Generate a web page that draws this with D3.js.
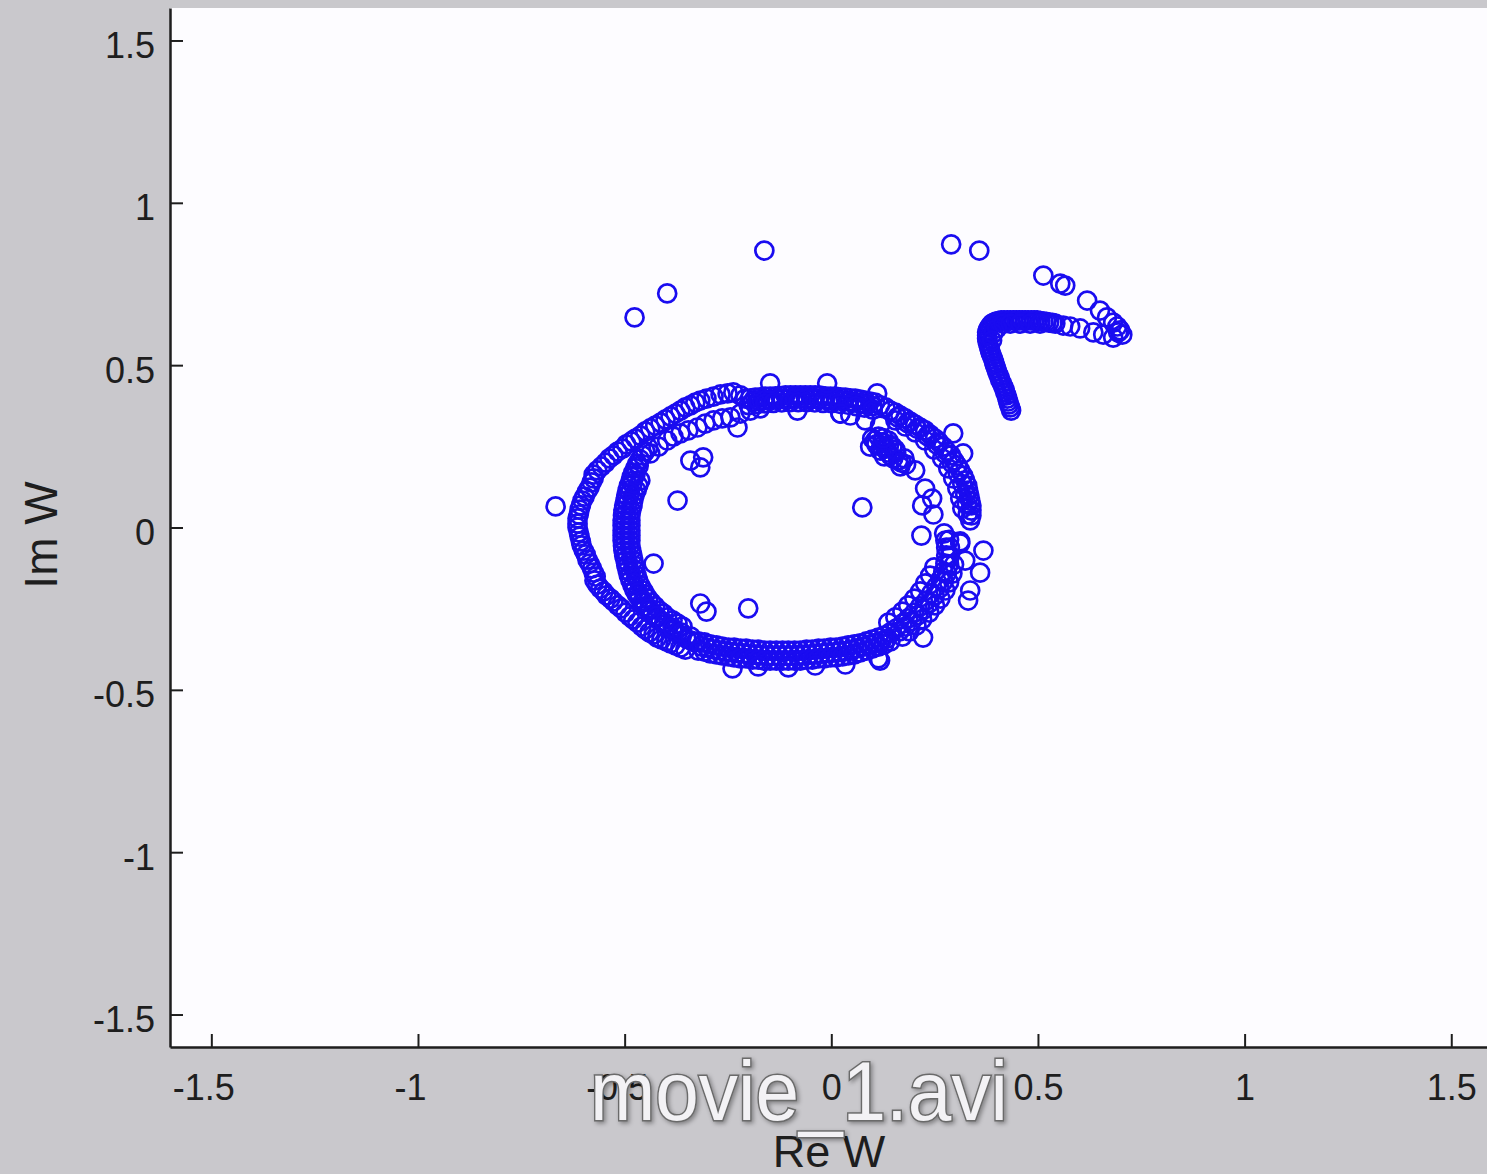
<!DOCTYPE html>
<html>
<head>
<meta charset="utf-8">
<script src="https://cdn.jsdelivr.net/npm/d3@7"></script>
<style>
    body { margin: 0; background: #c9c8cc; overflow: hidden; }
    svg { display: block; }
</style>
</head>
<body>
<svg></svg>
<script>
// tick values and labels
const X_TICKS = [-1.5, -1, -0.5, 0, 0.5, 1, 1.5];
const X_TICK_LABELS = ['-1.5', '-1', '-0.5', '0', '0.5', '1', '1.5'];
const Y_TICKS = [-1.5, -1, -0.5, 0, 0.5, 1, 1.5];
const Y_TICK_LABELS = ['-1.5', '-1', '-0.5', '0', '0.5', '1', '1.5'];

// W samples as [Re W, Im W], grouped by the parts of the picture
const outerArc = [
    [-0.220,0.407],[-0.251,0.413],[-0.285,0.403],[-0.317,0.391],[-0.341,0.376],[-0.365,0.360],[-0.389,0.342],[-0.413,0.323],
    [-0.438,0.305],[-0.462,0.283],[-0.484,0.265],[-0.505,0.243],[-0.527,0.222],[-0.546,0.200],[-0.566,0.176],[-0.575,0.151],
    [-0.585,0.123],[-0.597,0.095],[-0.606,0.068],[-0.611,0.040],[-0.614,0.012],[-0.611,-0.015],[-0.606,-0.043],[-0.599,-0.071],
    [-0.590,-0.099],[-0.579,-0.126],[-0.570,-0.151],[-0.566,-0.176],[-0.551,-0.197],[-0.534,-0.219],[-0.517,-0.240],[-0.498,-0.262],
    [-0.479,-0.283],[-0.459,-0.305],[-0.440,-0.323],[-0.421,-0.339],[-0.399,-0.351],[-0.377,-0.363],[-0.353,-0.376],
    [-0.237,0.416],[-0.268,0.410],[-0.302,0.397],[-0.329,0.385],[-0.353,0.370],[-0.377,0.351],[-0.401,0.333],[-0.426,0.314],
    [-0.450,0.296],[-0.474,0.274],[-0.496,0.256],[-0.517,0.234],[-0.537,0.213],[-0.556,0.188],[-0.575,0.163],[-0.580,0.139],
    [-0.591,0.111],[-0.602,0.083],[-0.609,0.055],[-0.614,0.028],[-0.614,0.000],[-0.609,-0.028],[-0.604,-0.055],[-0.594,-0.083],
    [-0.585,-0.111],[-0.575,-0.139],[-0.573,-0.163],[-0.559,-0.188],[-0.544,-0.209],[-0.527,-0.228],[-0.508,-0.249],[-0.488,-0.274],
    [-0.469,-0.293],[-0.450,-0.314],[-0.430,-0.330],[-0.411,-0.345],[-0.389,-0.357],[-0.365,-0.370]
];

const innerArc = [
    [-0.438,0.228],[-0.418,0.249],[-0.397,0.268],[-0.382,0.280],[-0.365,0.290],[-0.346,0.299],[-0.324,0.308],[-0.305,0.320],
    [-0.285,0.330],[-0.264,0.336],[-0.244,0.339],[-0.227,0.308],[-0.220,0.351],[-0.196,0.360],[-0.172,0.367],[-0.341,0.206],
    [-0.310,0.216],[-0.317,0.185]
];

const innerBand = [
    [-0.443,0.246],[-0.450,0.234],[-0.457,0.222],[-0.463,0.210],[-0.469,0.197],[-0.474,0.183],[-0.479,0.169],[-0.483,0.156],
    [-0.486,0.142],[-0.490,0.128],[-0.493,0.114],[-0.496,0.099],[-0.498,0.083],[-0.501,0.068],[-0.503,0.052],[-0.504,0.037],
    [-0.505,0.022],[-0.505,0.006],[-0.505,-0.009],[-0.505,-0.025],[-0.505,-0.040],[-0.504,-0.056],[-0.503,-0.071],[-0.501,-0.087],
    [-0.498,-0.102],[-0.496,-0.117],[-0.493,-0.132],[-0.490,-0.148],[-0.486,-0.163],[-0.481,-0.179],[-0.476,-0.194],[-0.470,-0.207],
    [-0.464,-0.219],[-0.457,-0.231],[-0.450,-0.243],[-0.442,-0.256],[-0.433,-0.268],[-0.423,-0.279],[-0.413,-0.290],[-0.404,-0.299],
    [-0.394,-0.308],[-0.383,-0.317],[-0.372,-0.326],[-0.362,-0.334],[-0.351,-0.342],[-0.340,-0.348],[-0.329,-0.354],
    [-0.462,0.145],[-0.471,0.114],[-0.479,0.083],[-0.484,0.052],[-0.486,0.022],[-0.486,-0.009],[-0.486,-0.040],[-0.484,-0.071],
    [-0.479,-0.102],[-0.474,-0.132],[-0.467,-0.163],[-0.455,-0.194],[-0.443,-0.219],[-0.426,-0.243],[-0.406,-0.265],[-0.384,-0.286],
    [-0.360,-0.305],[-0.467,0.129],[-0.476,0.099],[-0.481,0.068],[-0.486,0.037],[-0.486,0.006],[-0.486,-0.025],[-0.486,-0.055],
    [-0.481,-0.086],[-0.476,-0.117],[-0.471,-0.148],[-0.462,-0.179],[-0.450,-0.206],[-0.435,-0.231],[-0.416,-0.256],[-0.397,-0.277],
    [-0.372,-0.296],
    [-0.466,0.190],[-0.474,0.162],[-0.481,0.135],[-0.487,0.106],[-0.492,0.076],[-0.495,0.045],[-0.497,0.014],[-0.497,-0.017],
    [-0.497,-0.048],[-0.495,-0.079],[-0.491,-0.110],[-0.485,-0.140],[-0.478,-0.171],[-0.467,-0.200],[-0.455,-0.225],[-0.440,-0.249],
    [-0.423,-0.272],[-0.404,-0.291],[-0.384,-0.309],[-0.362,-0.324],[-0.340,-0.336]
];

const bottomBand = [
    [-0.322,-0.351],[-0.307,-0.354],[-0.293,-0.360],[-0.278,-0.363],[-0.264,-0.367],[-0.249,-0.370],[-0.235,-0.370],[-0.220,-0.373],
    [-0.206,-0.373],[-0.191,-0.376],[-0.177,-0.376],[-0.162,-0.379],[-0.148,-0.379],[-0.133,-0.379],[-0.118,-0.379],[-0.104,-0.379],
    [-0.089,-0.379],[-0.075,-0.379],[-0.060,-0.376],[-0.046,-0.376],[-0.031,-0.373],[-0.017,-0.373],[-0.002,-0.370],[0.012,-0.370],
    [0.027,-0.367],[0.041,-0.363],[0.056,-0.360],[0.070,-0.357],[0.085,-0.351],[0.099,-0.345],[0.114,-0.339],[0.128,-0.333],
    [0.143,-0.323],
    [-0.315,-0.366],[-0.300,-0.370],[-0.286,-0.375],[-0.271,-0.378],[-0.257,-0.382],[-0.242,-0.384],[-0.228,-0.386],[-0.213,-0.388],
    [-0.199,-0.390],[-0.184,-0.392],[-0.170,-0.393],[-0.155,-0.395],[-0.141,-0.395],[-0.126,-0.395],[-0.111,-0.395],[-0.097,-0.395],
    [-0.082,-0.395],[-0.068,-0.393],[-0.053,-0.392],[-0.039,-0.390],[-0.024,-0.388],[-0.010,-0.386],[0.005,-0.385],[0.019,-0.383],
    [0.034,-0.381],[0.048,-0.377],[0.063,-0.372],[0.077,-0.367],[0.092,-0.361],[0.106,-0.356],[0.121,-0.350],[0.135,-0.342],
    [-0.322,-0.379],[-0.307,-0.382],[-0.293,-0.388],[-0.278,-0.391],[-0.264,-0.394],[-0.249,-0.397],[-0.235,-0.400],[-0.220,-0.403],
    [-0.206,-0.403],[-0.191,-0.407],[-0.177,-0.407],[-0.162,-0.410],[-0.148,-0.410],[-0.133,-0.410],[-0.118,-0.410],[-0.104,-0.410],
    [-0.089,-0.410],[-0.075,-0.410],[-0.060,-0.407],[-0.046,-0.407],[-0.031,-0.403],[-0.017,-0.403],[-0.002,-0.400],[0.012,-0.400],
    [0.027,-0.397],[0.041,-0.394],[0.056,-0.391],[0.070,-0.385],[0.085,-0.379],[0.099,-0.373],[0.114,-0.367],[0.128,-0.360],
    [0.143,-0.351],
    [-0.239,-0.434],[-0.177,-0.428],[-0.104,-0.431],[-0.039,-0.425],[0.034,-0.422],[0.114,-0.403],[-0.317,-0.234],[-0.302,-0.259]
];

const lowerRight = [
    [0.157,-0.311],[0.172,-0.296],[0.186,-0.280],[0.201,-0.262],[0.215,-0.243],[0.230,-0.225],[0.242,-0.203],[0.254,-0.182],
    [0.264,-0.160],[0.271,-0.136],[0.276,-0.111],[0.278,-0.086],[0.278,-0.062],[0.276,-0.040],[0.273,-0.018],
    [0.165,-0.320],[0.180,-0.305],[0.195,-0.288],[0.210,-0.270],[0.224,-0.252],[0.238,-0.232],[0.250,-0.210],[0.262,-0.188],
    [0.272,-0.165],[0.280,-0.140],[0.285,-0.114],[0.287,-0.088],[0.287,-0.062],[0.285,-0.038],
    [0.172,-0.336],[0.189,-0.320],[0.206,-0.302],[0.220,-0.283],[0.237,-0.262],[0.251,-0.240],[0.264,-0.219],[0.276,-0.194],
    [0.285,-0.169],[0.293,-0.142],[0.297,-0.114],
    [0.138,-0.293],[0.155,-0.277],[0.172,-0.259],[0.186,-0.240],[0.201,-0.219],[0.215,-0.197],[0.227,-0.172],[0.239,-0.148],
    [0.249,-0.123],
    [0.368,-0.071],[0.360,-0.139],[0.336,-0.194],[0.331,-0.225],[0.312,-0.043],[0.324,-0.102],[0.222,-0.339],[0.118,-0.410]
];

const rightBand = [
    [0.118,0.376],[0.143,0.360],[0.167,0.345],[0.191,0.326],[0.215,0.308],[0.239,0.286],[0.261,0.262],[0.280,0.234],
    [0.297,0.206],[0.312,0.176],[0.324,0.145],[0.331,0.114],[0.336,0.083],[0.339,0.052],[0.336,0.022],
    [0.131,0.370],[0.155,0.354],[0.179,0.336],[0.203,0.317],[0.227,0.299],[0.251,0.274],[0.271,0.249],[0.290,0.222],
    [0.305,0.191],[0.319,0.160],[0.329,0.129],[0.334,0.099],[0.339,0.068],[0.339,0.037],
    [0.160,0.340],[0.184,0.322],[0.208,0.304],[0.232,0.282],[0.255,0.256],[0.275,0.228],[0.292,0.198],[0.306,0.166],
    [0.317,0.134],[0.324,0.102],[0.328,0.070],[0.330,0.040],
    [0.155,0.330],[0.179,0.311],[0.203,0.293],[0.227,0.268],[0.249,0.240],[0.268,0.213],[0.283,0.182],[0.295,0.151],
    [0.305,0.120],[0.312,0.089],[0.317,0.059]
];

const rightBlob = [
    [0.099,0.274],[0.114,0.280],[0.109,0.256],[0.123,0.262],[0.138,0.268],[0.118,0.237],[0.133,0.243],[0.148,0.249],
    [0.143,0.222],[0.157,0.231],[0.162,0.206],[0.177,0.213],[0.128,0.219],[0.167,0.188],[0.181,0.194],[0.094,0.249],
    [0.106,0.268],[0.121,0.250],[0.136,0.231],[0.150,0.213],[0.155,0.240],[0.140,0.255],[0.170,0.200],[0.126,0.275]
];

const rightInner = [
    [0.203,0.176],[0.227,0.120],[0.244,0.089],[0.220,0.068],[0.247,0.040],[0.218,-0.025],[0.295,0.290],[0.319,0.228],
    [0.312,-0.049],[0.046,0.345],[0.082,0.330],[0.022,0.351],[0.118,0.314]
];

const topBand = [
    [-0.208,0.397],[-0.196,0.398],[-0.184,0.400],[-0.172,0.401],[-0.160,0.403],[-0.148,0.403],[-0.135,0.404],[-0.123,0.405],
    [-0.111,0.407],[-0.099,0.407],[-0.087,0.407],[-0.075,0.407],[-0.063,0.407],[-0.051,0.407],[-0.039,0.407],[-0.027,0.406],
    [-0.015,0.404],[-0.002,0.403],[0.010,0.403],[0.022,0.401],[0.034,0.400],[0.046,0.398],[0.058,0.397],[0.070,0.394],
    [0.082,0.391],[0.094,0.388],[0.106,0.385],
    [-0.190,0.388],[-0.176,0.390],[-0.161,0.392],[-0.147,0.393],[-0.132,0.395],[-0.118,0.396],[-0.103,0.396],[-0.089,0.397],
    [-0.074,0.397],[-0.060,0.397],[-0.045,0.396],[-0.031,0.395],[-0.016,0.394],[-0.002,0.393],[0.013,0.392],[0.027,0.390],
    [0.042,0.388],[0.056,0.385],[0.071,0.382],[0.085,0.378],[0.100,0.374],
    [-0.200,0.377],[-0.180,0.380],[-0.160,0.382],[-0.140,0.384],[-0.120,0.385],[-0.100,0.386],[-0.080,0.386],[-0.060,0.386],
    [-0.040,0.385],[-0.020,0.384],[0.000,0.383],[0.020,0.381],[0.040,0.378],[0.060,0.374],[0.080,0.369],[0.100,0.363],
    [-0.148,0.444],[-0.010,0.444],[0.111,0.413],[-0.082,0.360],[0.022,0.351]
];

const hook = [
    [0.435,0.360],[0.430,0.379],[0.426,0.397],[0.421,0.416],[0.416,0.434],[0.409,0.453],[0.404,0.471],[0.399,0.490],
    [0.394,0.508],[0.389,0.527],[0.384,0.545],[0.380,0.564],[0.377,0.582],[0.377,0.601],[0.382,0.616],[0.389,0.628],
    [0.399,0.634],[0.411,0.638],[0.426,0.638],[0.440,0.638],[0.455,0.638],[0.469,0.638],[0.484,0.638],[0.498,0.638],
    [0.513,0.634],[0.527,0.631],[0.542,0.628],
    [0.433,0.370],[0.428,0.388],[0.424,0.407],[0.419,0.425],[0.413,0.444],[0.407,0.462],[0.401,0.481],[0.396,0.499],
    [0.392,0.518],[0.386,0.536],[0.382,0.554],[0.378,0.573],[0.377,0.592],[0.379,0.609],[0.385,0.622],[0.394,0.631],
    [0.405,0.636],[0.418,0.638],[0.433,0.638],[0.448,0.638],[0.462,0.638],[0.476,0.638],[0.491,0.638],[0.506,0.636],
    [0.520,0.633],[0.535,0.630],
    [0.392,0.598],[0.401,0.613],[0.416,0.628],[0.389,0.576],[0.433,0.628],[0.457,0.628],[0.481,0.628],[0.505,0.628]
];

const hookTail = [
    [0.561,0.622],[0.578,0.619],[0.602,0.613],[0.634,0.601],[0.658,0.594],[0.682,0.585],[0.694,0.601],
    [0.513,0.776],[0.554,0.751],[0.566,0.745],[0.619,0.699],[0.650,0.668],[0.667,0.647],[0.682,0.631],[0.692,0.619],
    [0.699,0.607],[0.704,0.594]
];

const strays = [
    [-0.162,0.853],[-0.397,0.721],[-0.476,0.647],[0.290,0.872],[0.358,0.853],[-0.667,0.065],[-0.372,0.083],[0.075,0.062],
    [-0.201,-0.249],[-0.430,-0.111]
];

const POINTS = [].concat(outerArc, innerArc, innerBand, bottomBand, lowerRight,
    rightBand, rightBlob, rightInner, topBand, hook, hookTail, strays);

const WIDTH = 1487;
const HEIGHT = 1174;
const PLOT = { left: 170, right: 1492.6, top: 8, bottom: 1047 };
const FONT = '"Liberation Sans", Arial, Helvetica, sans-serif';
const MARKER = '#1a0cf0';

const xScale = d3.scaleLinear().domain([-1.6, 1.6]).range([PLOT.left, PLOT.right]);
const yScale = d3.scaleLinear().domain([-1.6, 1.6]).range([PLOT.bottom, PLOT.top]);

const svg = d3.select('svg')
    .attr('width', WIDTH)
    .attr('height', HEIGHT);

svg.append('rect')
    .attr('width', WIDTH)
    .attr('height', HEIGHT)
    .attr('fill', '#c9c8cc');

svg.append('rect')
    .attr('x', PLOT.left)
    .attr('y', PLOT.top)
    .attr('width', PLOT.right - PLOT.left)
    .attr('height', PLOT.bottom - PLOT.top)
    .attr('fill', '#fdfcff');

// markers
svg.append('g')
    .selectAll('circle')
    .data(POINTS)
    .join('circle')
    .attr('cx', d => xScale(d[0]))
    .attr('cy', d => yScale(d[1]))
    .attr('r', 9)
    .attr('fill', 'none')
    .attr('stroke', MARKER)
    .attr('stroke-width', 2.7);

// axes
const xAxis = svg.append('g')
    .attr('transform', `translate(0, ${PLOT.bottom})`)
    .call(d3.axisBottom(xScale)
        .tickValues(X_TICKS)
        .tickFormat((d, i) => X_TICK_LABELS[i])
        .tickSize(-13)
        .tickSizeOuter(0)
        .tickPadding(27));

xAxis.selectAll('text')
    .attr('dx', d => d < 0 ? -8 : 0);

const yAxis = svg.append('g')
    .attr('transform', `translate(${PLOT.left}, 0)`)
    .call(d3.axisLeft(yScale)
        .tickValues(Y_TICKS)
        .tickFormat((d, i) => Y_TICK_LABELS[i])
        .tickSize(-13)
        .tickSizeOuter(0)
        .tickPadding(15));

yAxis.selectAll('text')
    .attr('dy', '0.47em');

[xAxis, yAxis].forEach(axis => {
    axis.attr('font-size', 36)
        .attr('font-family', FONT)
        .attr('color', '#1e1e1e');
    axis.select('.domain').attr('stroke-width', 2.5);
    axis.selectAll('.tick line').attr('stroke-width', 2);
});

// axis labels
svg.append('text')
    .attr('x', 829)
    .attr('y', 1167)
    .attr('text-anchor', 'middle')
    .attr('font-family', FONT)
    .attr('font-size', 45)
    .attr('fill', '#1e1e1e')
    .text('Re W');

svg.append('text')
    .attr('transform', 'translate(57, 535) rotate(-90)')
    .attr('text-anchor', 'middle')
    .attr('font-family', FONT)
    .attr('font-size', 46)
    .attr('fill', '#1e1e1e')
    .text('Im W');

// video file caption over the axis
svg.append('text')
    .attr('x', 799)
    .attr('y', 1120)
    .attr('text-anchor', 'middle')
    .attr('font-family', FONT)
    .attr('font-size', 84)
    .attr('textLength', 418)
    .attr('lengthAdjust', 'spacingAndGlyphs')
    .attr('fill', '#f3f2f5')
    .attr('stroke', '#6a6a6a')
    .attr('stroke-width', 3)
    .attr('paint-order', 'stroke')
    .style('filter', 'drop-shadow(2px 2px 2px rgba(0,0,0,0.35))')
    .text('movie_1.avi');
</script>
</body>
</html>
